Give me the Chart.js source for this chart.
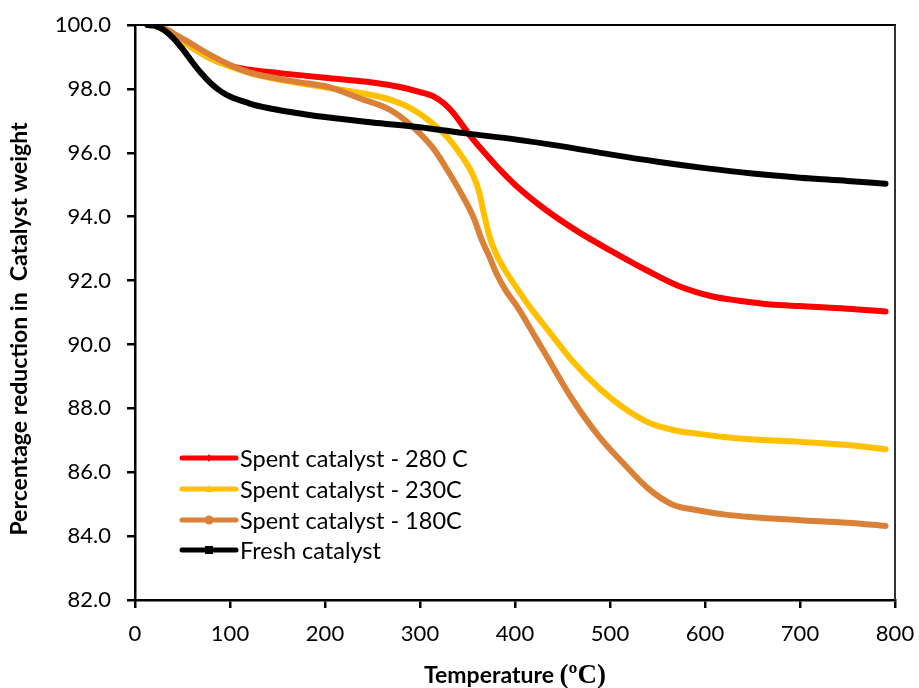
<!DOCTYPE html>
<html>
<head>
<meta charset="utf-8">
<script src="https://cdn.jsdelivr.net/npm/chart.js@4.4.0/dist/chart.umd.min.js"></script>
<style>
  html, body { margin: 0; padding: 0; background: #ffffff; }
  #c { display: block; }
</style>
</head>
<body>
<canvas id="c" width="919" height="688"></canvas>
<script>
// ---- Data ----
const seriesNames = ["Spent catalyst - 280 C", "Spent catalyst - 230C", "Spent catalyst - 180C", "Fresh catalyst"];

const tempRed = [25, 40, 60, 80, 100, 120, 150, 200, 250, 280, 300, 315, 325, 335, 345, 355, 365, 380, 400, 433, 468, 503, 538, 573, 608, 636, 670, 700, 750, 790];
const valRed  = [100, 99.7, 99.3, 98.95, 98.72, 98.6, 98.5, 98.35, 98.2, 98.05, 97.9, 97.75, 97.55, 97.25, 96.85, 96.45, 96.1, 95.6, 95.0, 94.2, 93.5, 92.9, 92.33, 91.82, 91.5, 91.37, 91.25, 91.2, 91.12, 91.03];

const tempYellow = [20, 40, 60, 80, 100, 120, 150, 200, 250, 270, 290, 310, 330, 345, 355, 362, 368, 374, 380, 387, 400, 415, 436, 460, 489, 515, 541, 570, 594, 620, 647, 700, 750, 790];
const valYellow  = [100, 99.7, 99.3, 98.95, 98.7, 98.5, 98.3, 98.05, 97.8, 97.65, 97.4, 97.0, 96.45, 95.85, 95.35, 94.8, 94.0, 93.3, 92.85, 92.45, 91.85, 91.2, 90.4, 89.5, 88.62, 88.0, 87.55, 87.3, 87.2, 87.1, 87.03, 86.95, 86.85, 86.72];

const tempOrange = [25, 40, 60, 80, 100, 120, 140, 170, 205, 237, 268, 285, 300, 315, 328, 342, 356, 366, 373, 380, 390, 402, 423, 436, 460, 489, 515, 541, 565, 594, 620, 647, 700, 750, 790];
const valOrange  = [100, 99.75, 99.4, 99.05, 98.75, 98.52, 98.38, 98.22, 98.05, 97.7, 97.35, 97.0, 96.6, 96.1, 95.5, 94.8, 94.0, 93.2, 92.75, 92.25, 91.7, 91.2, 90.15, 89.5, 88.3, 87.1, 86.25, 85.47, 85.0, 84.8, 84.68, 84.6, 84.5, 84.42, 84.32];

const tempBlack = [13, 20, 30, 40, 50, 60, 70, 80, 90, 100, 120, 140, 160, 180, 200, 250, 300, 350, 400, 450, 500, 550, 600, 650, 700, 750, 790];
const valBlack  = [100, 99.98, 99.85, 99.6, 99.25, 98.85, 98.48, 98.17, 97.93, 97.76, 97.55, 97.4, 97.29, 97.2, 97.12, 96.95, 96.8, 96.6, 96.42, 96.2, 95.95, 95.72, 95.52, 95.35, 95.22, 95.12, 95.03];

const xTicks = [0, 100, 200, 300, 400, 500, 600, 700, 800];
const yTicks = [82, 84, 86, 88, 90, 92, 94, 96, 98, 100];

const xTitleMain = "Temperature ";
const xTitleUnit = "(ºC)";
const yTitle = "Percentage reduction in  Catalyst weight";

const colors = ["#FF0000", "#FFC000", "#DA8137", "#000000"];

function pts(xs, ys) { return xs.map((x, i) => ({ x: x, y: ys[i] })); }

const FONT = "Lato, 'Open Sans', 'DejaVu Sans', sans-serif";

const frameLegend = {
  id: 'frameLegend',
  afterDraw(chart) {
    const ctx = chart.ctx;
    const a = chart.chartArea;
    ctx.save();
    // top and right frame
    ctx.strokeStyle = '#000';
    ctx.lineWidth = 2;
    ctx.beginPath();
    ctx.moveTo(a.left, a.top);
    ctx.lineTo(a.right + 1, a.top);
    ctx.stroke();
    ctx.strokeStyle = '#333';
    ctx.beginPath();
    ctx.moveTo(a.right, a.top);
    ctx.lineTo(a.right, a.bottom);
    ctx.stroke();

    // x axis title (two fonts, as in the reference)
    const cx = (a.left + a.right) / 2;
    const by = 683;
    ctx.fillStyle = '#000';
    ctx.textBaseline = 'alphabetic';
    ctx.textAlign = 'left';
    const f1 = "bold 23px " + FONT;
    const f2 = "bold 27px 'Liberation Serif', 'DejaVu Serif', serif";
    ctx.font = f1; const w1 = ctx.measureText(xTitleMain).width;
    ctx.font = f2; const w2 = ctx.measureText(xTitleUnit).width;
    const sx = cx - (w1 + w2) / 2;
    ctx.font = f1; ctx.fillText(xTitleMain, sx, by);
    ctx.font = f2; ctx.fillText(xTitleUnit, sx + w1, by);

    // y axis title
    ctx.save();
    ctx.translate(27, 329);
    ctx.rotate(-Math.PI / 2);
    ctx.font = "bold 23px " + FONT;
    ctx.textAlign = 'center';
    ctx.fillText(yTitle, 0, 0);
    ctx.restore();

    // legend
    const x0 = 182, x1 = 236, textX = 240;
    const rowY = [458, 489, 520, 550];
    ctx.font = "23.5px " + FONT;
    ctx.textBaseline = 'middle';
    ctx.textAlign = 'left';
    chart.data.datasets.forEach((ds, i) => {
      const y = rowY[i];
      ctx.strokeStyle = ds.borderColor;
      ctx.lineWidth = 5;
      ctx.lineCap = 'round';
      ctx.beginPath();
      ctx.moveTo(x0, y);
      ctx.lineTo(x1, y);
      ctx.stroke();
      const mx = (x0 + x1) / 2;
      ctx.fillStyle = ds.borderColor;
      ctx.beginPath();
      if (i === 0) {
        ctx.moveTo(mx, y - 4); ctx.lineTo(mx + 3, y); ctx.lineTo(mx, y + 4); ctx.lineTo(mx - 3, y); ctx.closePath();
      } else if (i === 1) {
        ctx.moveTo(mx, y - 4); ctx.lineTo(mx + 4, y + 3); ctx.lineTo(mx - 4, y + 3); ctx.closePath();
      } else if (i === 2) {
        ctx.arc(mx, y, 4.5, 0, Math.PI * 2);
      } else {
        ctx.rect(mx - 4, y - 4, 8, 8);
      }
      ctx.fill();
      ctx.fillStyle = '#000';
      ctx.fillText(ds.label, textX, y + 1);
    });
    ctx.restore();
  }
};

const datasets = [
  { label: seriesNames[0], data: pts(tempRed, valRed), borderColor: colors[0], order: 3 },
  { label: seriesNames[1], data: pts(tempYellow, valYellow), borderColor: colors[1], order: 2 },
  { label: seriesNames[2], data: pts(tempOrange, valOrange), borderColor: colors[2], order: 1 },
  { label: seriesNames[3], data: pts(tempBlack, valBlack), borderColor: colors[3], order: 0 }
].map(d => Object.assign(d, {
  borderWidth: 6,
  pointRadius: 0,
  pointHoverRadius: 0,
  fill: false,
  cubicInterpolationMode: 'monotone',
  borderCapStyle: 'round',
  borderJoinStyle: 'round',
  backgroundColor: d.borderColor
}));

new Chart(document.getElementById('c'), {
  type: 'line',
  data: { datasets: datasets },
  plugins: [frameLegend],
  options: {
    responsive: false,
    animation: false,
    devicePixelRatio: 1,
    layout: { padding: { top: 25, right: 24, left: 0, bottom: 0 } },
    plugins: { legend: { display: false }, tooltip: { enabled: false } },
    scales: {
      x: {
        type: 'linear',
        min: 0, max: 800,
        afterBuildTicks(scale) { scale.ticks = xTicks.map(v => ({ value: v })); },
        afterFit(scale) { scale.height = 88; scale.paddingLeft = 0; scale.paddingRight = 0; },
        ticks: {
          color: '#000',
          font: { family: FONT, size: 22 },
          padding: 13,
          maxRotation: 0,
          callback: v => String(v)
        },
        grid: { drawOnChartArea: false, drawTicks: true, tickLength: 8, color: '#000', lineWidth: 2.5 },
        border: { display: true, color: '#000', width: 2.5 },
        title: { display: false }
      },
      y: {
        type: 'linear',
        min: 82, max: 100,
        afterBuildTicks(scale) { scale.ticks = yTicks.map(v => ({ value: v })); },
        afterFit(scale) { scale.width = 135; scale.paddingTop = 0; scale.paddingBottom = 0; },
        ticks: {
          color: '#000',
          font: { family: FONT, size: 22 },
          padding: 16,
          callback: v => Number(v).toFixed(1)
        },
        grid: { drawOnChartArea: false, drawTicks: true, tickLength: 8, color: '#000', lineWidth: 2.5 },
        border: { display: true, color: '#000', width: 2.5 },
        title: { display: false }
      }
    }
  }
});
</script>
</body>
</html>
